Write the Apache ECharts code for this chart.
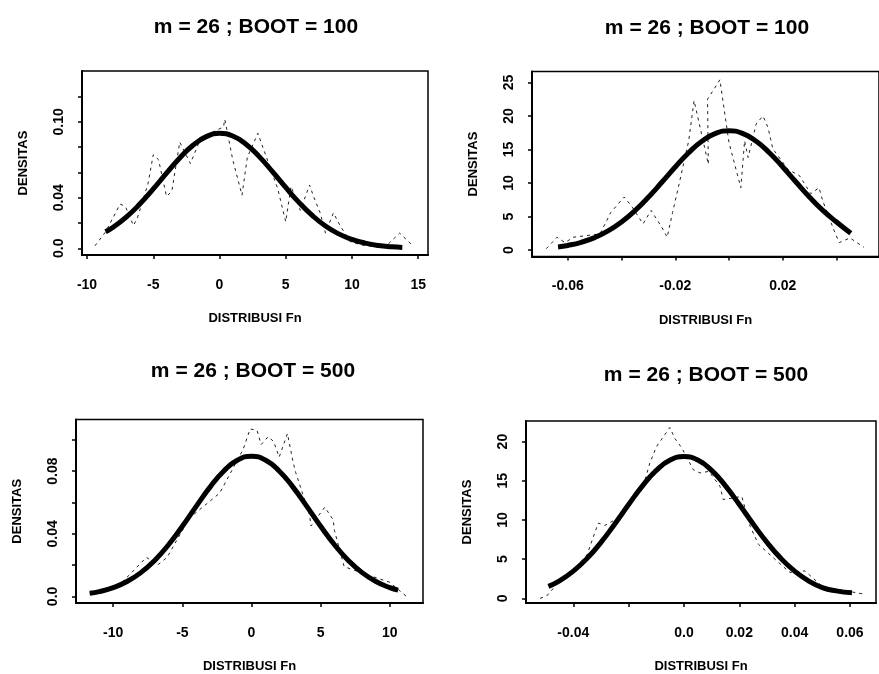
<!DOCTYPE html>
<html>
<head>
<meta charset="utf-8">
<style>
html, body { margin: 0; padding: 0; background: #fff; }
#chart { width: 879px; height: 674px; }
</style>
<script src="https://cdn.jsdelivr.net/npm/echarts@6/dist/echarts.min.js"></script>
</head>
<body>
<div id="chart"></div>
<script>
// judul tiap panel
var titles = ['m = 26 ; BOOT = 100', 'm = 26 ; BOOT = 100', 'm = 26 ; BOOT = 500', 'm = 26 ; BOOT = 500'];
var xName = 'DISTRIBUSI Fn';
var yName = 'DENSITAS';

// kurva normal (tebal)
var fit1 = [[-8.6,0.0131],[-8,0.0169],[-7,0.0250],[-6,0.0352],[-5,0.0469],[-4,0.0594],[-3,0.0714],[-2,0.0815],[-1,0.0883],[0,0.0909],[1,0.0888],[2,0.0823],[3,0.0725],[4,0.0606],[5,0.0481],[6,0.0363],[7,0.0260],[8,0.0176],[9,0.0114],[10,0.0070],[11,0.0041],[12,0.0022],[13,0.0012],[13.8,0.0007]];
var fit2 = [[-0.0636,0.46],[-0.06,0.68],[-0.055,1.15],[-0.05,1.85],[-0.045,2.85],[-0.04,4.18],[-0.035,5.87],[-0.03,7.88],[-0.025,10.11],[-0.02,12.39],[-0.015,14.52],[-0.01,16.26],[-0.005,17.40],[0,17.8],[0.005,17.40],[0.01,16.26],[0.015,14.52],[0.02,12.39],[0.025,10.11],[0.03,7.88],[0.035,5.87],[0.04,4.18],[0.0453,2.5]];
var fit3 = [[-11.7,0.0020],[-11,0.0031],[-10,0.0056],[-9,0.0095],[-8,0.0152],[-7,0.0230],[-6,0.0330],[-5,0.0448],[-4,0.0575],[-3,0.0698],[-2,0.0801],[-1,0.0871],[0,0.0895],[1,0.0871],[2,0.0801],[3,0.0698],[4,0.0575],[5,0.0448],[6,0.0330],[7,0.0230],[8,0.0152],[9,0.0095],[10,0.0056],[10.6,0.0040]];
var fit4 = [[-0.049,1.52],[-0.045,2.23],[-0.04,3.47],[-0.035,5.10],[-0.03,7.14],[-0.025,9.49],[-0.02,11.97],[-0.015,14.35],[-0.01,16.32],[-0.005,17.64],[0,18.1],[0.005,17.64],[0.01,16.32],[0.015,14.35],[0.02,11.97],[0.025,9.49],[0.03,7.14],[0.035,5.10],[0.04,3.47],[0.045,2.23],[0.05,1.37],[0.055,0.95],[0.0607,0.7]];

// kurva densitas kernel (tipis, putus-putus)
var kde1 = [[-9.4,0.002],[-8.6,0.013],[-7.5,0.035],[-7.1,0.033],[-6.5,0.018],[-6.2,0.024],[-5.4,0.051],[-5.0,0.074],[-4.6,0.070],[-4.0,0.041],[-3.6,0.045],[-3.0,0.084],[-2.2,0.067],[-1.5,0.085],[-0.5,0.092],[0.3,0.096],[0.4,0.102],[1.0,0.070],[1.7,0.042],[2.1,0.072],[2.9,0.091],[3.2,0.082],[4.4,0.047],[5.0,0.021],[5.4,0.049],[6.1,0.030],[6.8,0.050],[7.1,0.041],[7.6,0.028],[8.0,0.012],[8.6,0.028],[9.1,0.018],[9.9,0.005],[11,0.002],[12.5,0.001],[13.6,0.012],[14.5,0.003]];
var kde2 = [[-0.068,0.2],[-0.064,1.9],[-0.061,1.1],[-0.058,1.9],[-0.048,2.4],[-0.044,5.6],[-0.039,7.9],[-0.036,6.4],[-0.032,3.9],[-0.029,5.9],[-0.025,3.4],[-0.023,1.9],[-0.021,5.6],[-0.019,9.1],[-0.015,16.3],[-0.013,22.3],[-0.0077,12.8],[-0.008,22.5],[-0.0034,25.4],[0.0,16],[0.0044,9.3],[0.0058,16.3],[0.0071,13.8],[0.0101,18.8],[0.0126,20.0],[0.0145,18.3],[0.0163,15.1],[0.022,12],[0.0262,11.1],[0.0304,8.4],[0.0335,9.3],[0.0348,7.4],[0.0391,2.9],[0.041,1.1],[0.045,1.8],[0.0502,0.4]];
var kde3 = [[-11.7,0.002],[-10,0.005],[-9.5,0.008],[-8.8,0.014],[-7.6,0.025],[-6.8,0.020],[-6.1,0.025],[-4.5,0.050],[-2.3,0.066],[-0.6,0.094],[-0.1,0.107],[0.4,0.106],[0.7,0.097],[1.2,0.102],[1.6,0.099],[2.0,0.089],[2.6,0.104],[3.0,0.086],[3.2,0.079],[4.2,0.052],[4.3,0.045],[5.3,0.057],[5.9,0.049],[6.0,0.042],[6.7,0.019],[8.0,0.015],[10.0,0.009],[11.2,0.0]];
var kde4 = [[-0.052,0.0],[-0.0496,0.3],[-0.045,2.2],[-0.04,3.5],[-0.035,5.6],[-0.031,9.6],[-0.0286,9.3],[-0.024,10.2],[-0.02,12],[-0.0141,15.1],[-0.0123,17.3],[-0.0099,19.4],[-0.0075,20.6],[-0.0051,21.8],[-0.0033,20.4],[-0.0008,19.2],[0.0034,16.4],[0.0058,16.0],[0.009,16.2],[0.013,14.3],[0.0142,12.6],[0.0209,13.0],[0.0239,9.2],[0.0269,6.9],[0.0341,4.6],[0.0383,3.3],[0.0437,3.5],[0.05,1.5],[0.0648,0.55]];

// tick dan label sumbu
var x1Ticks = [-10, -5, 0, 5, 10, 15];
var x1Labels = ['-10', '-5', '0', '5', '10', '15'];
var y1Ticks = [0, 0.02, 0.04, 0.06, 0.08, 0.10, 0.12];
var y1LabelAt = [0, 0.04, 0.10];
var y1Labels = ['0.0', '0.04', '0.10'];

var x2Ticks = [-0.06, -0.04, -0.02, 0, 0.02, 0.04];
var x2LabelAt = [-0.06, -0.02, 0.02];
var x2Labels = ['-0.06', '-0.02', '0.02'];
var y2Ticks = [0, 5, 10, 15, 20, 25];
var y2Labels = ['0', '5', '10', '15', '20', '25'];

var x3Ticks = [-10, -5, 0, 5, 10];
var x3Labels = ['-10', '-5', '0', '5', '10'];
var y3Ticks = [0, 0.02, 0.04, 0.06, 0.08, 0.10];
var y3LabelAt = [0, 0.04, 0.08];
var y3Labels = ['0.0', '0.04', '0.08'];

var x4Ticks = [-0.04, -0.02, 0, 0.02, 0.04, 0.06];
var x4LabelAt = [-0.04, 0, 0.02, 0.04, 0.06];
var x4Labels = ['-0.04', '0.0', '0.02', '0.04', '0.06'];
var y4Ticks = [0, 5, 10, 15, 20];
var y4Labels = ['0', '5', '10', '15', '20'];

var FONT = '"Liberation Sans", Arial, sans-serif';

// posisi panel (kotak plot dalam piksel) dan rentang sumbu
var panels = [
    { box: [82, 71, 346, 184], xr: [-10.38, 15.74], yr: [-0.0053, 0.1402], tc: [251, 26],
      fit: fit1, kde: kde1, xt: x1Ticks, xa: x1Ticks, xl: x1Labels, yt: y1Ticks, ya: y1LabelAt, yl: y1Labels },
    { box: [532, 71.5, 352, 185], xr: [-0.0733, 0.0558], yr: [-0.97, 26.64], tc: [702, 27],
      fit: fit2, kde: kde2, xt: x2Ticks, xa: x2LabelAt, xl: x2Labels, yt: y2Ticks, ya: y2Ticks, yl: y2Labels },
    { box: [76, 419.5, 347, 185.5], xr: [-12.69, 12.4], yr: [-0.0042, 0.1130], tc: [248, 370],
      fit: fit3, kde: kde3, xt: x3Ticks, xa: x3Ticks, xl: x3Labels, yt: y3Ticks, ya: y3LabelAt, yl: y3Labels },
    { box: [526, 421, 350, 183], xr: [-0.0571, 0.0694], yr: [-0.6, 22.63], tc: [701, 374],
      fit: fit4, kde: kde4, xt: x4Ticks, xa: x4LabelAt, xl: x4Labels, yt: y4Ticks, ya: y4Ticks, yl: y4Labels }
];

function labelFn(at, txt) {
    return function(v) {
        for (var i = 0; i < at.length; i++) {
            if (Math.abs(at[i] - v) < 1e-9) return txt[i];
        }
        return '';
    };
}

var option = { backgroundColor: '#fff', animation: false, title: [], grid: [], xAxis: [], yAxis: [], series: [] };

panels.forEach(function(p, k) {
    option.title.push({
        text: titles[k],
        left: p.tc[0],
        top: p.tc[1] - 14,
        textAlign: 'center',
        textStyle: { fontSize: 21, fontWeight: 'bold', fontFamily: FONT, color: '#000' }
    });
    option.grid.push({
        left: p.box[0], top: p.box[1], width: p.box[2], height: p.box[3],
        show: true, borderColor: '#000', borderWidth: 1.5, backgroundColor: 'transparent'
    });
    option.xAxis.push({
        type: 'value', gridIndex: k, min: p.xr[0], max: p.xr[1],
        name: xName, nameLocation: 'middle', nameGap: 57,
        nameTextStyle: { fontSize: 13, fontWeight: 'bold', fontFamily: FONT, color: '#000' },
        axisLine: { show: true, onZero: false, lineStyle: { color: '#000', width: 2 } },
        axisTick: { show: true, customValues: p.xt, length: 4, lineStyle: { color: '#000', width: 1.5 } },
        axisLabel: { customValues: p.xa, formatter: labelFn(p.xa, p.xl), margin: 23,
            fontSize: 14, fontWeight: 'bold', fontFamily: FONT, color: '#000' },
        splitLine: { show: false }
    });
    option.yAxis.push({
        type: 'value', gridIndex: k, min: p.yr[0], max: p.yr[1],
        name: yName, nameLocation: 'middle', nameGap: 52,
        nameTextStyle: { fontSize: 13, fontWeight: 'bold', fontFamily: FONT, color: '#000' },
        axisLine: { show: true, onZero: false, lineStyle: { color: '#000', width: 2 } },
        axisTick: { show: true, customValues: p.yt, length: 4, lineStyle: { color: '#000', width: 1.5 } },
        axisLabel: { customValues: p.ya, formatter: labelFn(p.ya, p.yl), rotate: 90, margin: 16,
            fontSize: 14, fontWeight: 'bold', fontFamily: FONT, color: '#000' },
        splitLine: { show: false }
    });
    option.series.push({
        type: 'line', xAxisIndex: k, yAxisIndex: k, data: p.kde,
        showSymbol: false, silent: true,
        lineStyle: { color: '#222', width: 1, type: [3, 4] }
    });
    option.series.push({
        type: 'line', xAxisIndex: k, yAxisIndex: k, data: p.fit,
        smooth: true, showSymbol: false, silent: true,
        lineStyle: { color: '#000', width: 5 }
    });
});

echarts.init(document.getElementById('chart')).setOption(option);
</script>
</body>
</html>
